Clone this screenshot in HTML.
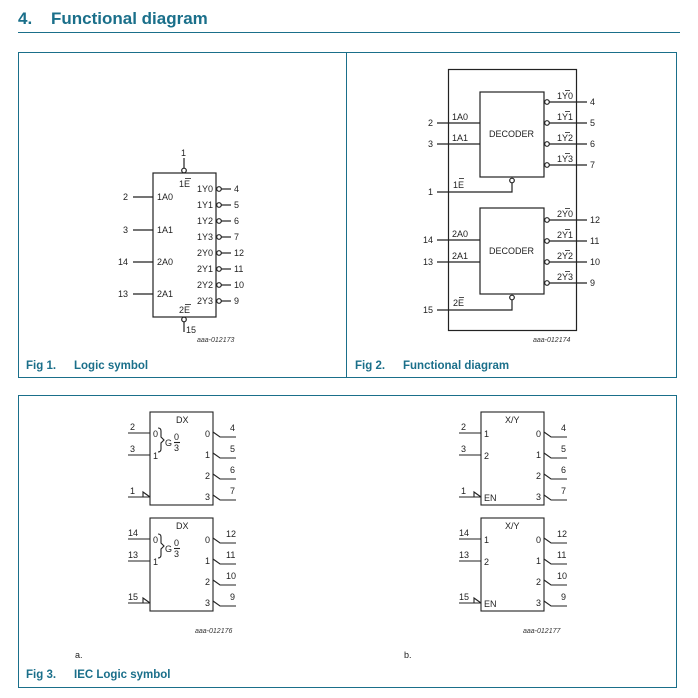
<!DOCTYPE html>
<html><head><meta charset="utf-8"><style>
body{margin:0;background:#fff;width:698px;height:698px;overflow:hidden}
svg{display:block}
text{font-family:"Liberation Sans",sans-serif}
.t{font-size:9px;fill:#222}
.c{font-size:11.5px;fill:#1a6f8a;font-weight:bold}
.s{font-size:7px;font-style:italic;fill:#333}
</style></head><body>
<svg width="698" height="698" viewBox="0 0 698 698" xmlns="http://www.w3.org/2000/svg">
<g stroke="#1a6f8a" fill="none" stroke-width="1">
<line x1="18" y1="32.5" x2="680" y2="32.5"/>
<rect x="18.5" y="52.5" width="658" height="325"/>
<line x1="346.5" y1="52" x2="346.5" y2="378"/>
<rect x="18.5" y="395.5" width="658" height="292"/>
</g>
<text x="18" y="24" style="font-size:17px;font-weight:bold;fill:#1a6f8a">4.</text>
<text x="51" y="24" style="font-size:17px;font-weight:bold;fill:#1a6f8a">Functional diagram</text>
<text x="26" y="369" class="c">Fig 1.</text><text x="74" y="369" class="c">Logic symbol</text>
<text x="355" y="369" class="c">Fig 2.</text><text x="403" y="369" class="c">Functional diagram</text>
<text x="26" y="678" class="c">Fig 3.</text><text x="74" y="678" class="c">IEC Logic symbol</text>

<!-- Fig 1 -->
<g stroke="#222" fill="none" stroke-width="1.2">
<rect x="153" y="173" width="63" height="144"/>
<line x1="184" y1="158" x2="184" y2="168"/><circle cx="184" cy="170.5" r="2.3" fill="#fff"/>
<circle cx="184" cy="319.5" r="2.3" fill="#fff"/><line x1="184" y1="322" x2="184" y2="332"/>
<line x1="133" y1="197" x2="153" y2="197"/>
<line x1="133" y1="230" x2="153" y2="230"/>
<line x1="133" y1="262" x2="153" y2="262"/>
<line x1="133" y1="294" x2="153" y2="294"/>
<g>
<circle cx="219" cy="189" r="2.3" fill="#fff"/><line x1="221" y1="189" x2="231" y2="189"/>
<circle cx="219" cy="205" r="2.3" fill="#fff"/><line x1="221" y1="205" x2="231" y2="205"/>
<circle cx="219" cy="221" r="2.3" fill="#fff"/><line x1="221" y1="221" x2="231" y2="221"/>
<circle cx="219" cy="237" r="2.3" fill="#fff"/><line x1="221" y1="237" x2="231" y2="237"/>
<circle cx="219" cy="253" r="2.3" fill="#fff"/><line x1="221" y1="253" x2="231" y2="253"/>
<circle cx="219" cy="269" r="2.3" fill="#fff"/><line x1="221" y1="269" x2="231" y2="269"/>
<circle cx="219" cy="285" r="2.3" fill="#fff"/><line x1="221" y1="285" x2="231" y2="285"/>
<circle cx="219" cy="301" r="2.3" fill="#fff"/><line x1="221" y1="301" x2="231" y2="301"/>
</g>
</g>
<g class="t">
<text x="181" y="156" class="t">1</text>
<text x="179" y="187" class="t">1E</text><line x1="185" y1="178.5" x2="191" y2="178.5" stroke="#222" stroke-width="0.8"/>
<text x="179" y="313" class="t">2E</text><line x1="185" y1="304.5" x2="191" y2="304.5" stroke="#222" stroke-width="0.8"/>
<text x="186" y="333" class="t">15</text>
<text x="123" y="200" class="t">2</text><text x="157" y="200" class="t">1A0</text>
<text x="123" y="233" class="t">3</text><text x="157" y="233" class="t">1A1</text>
<text x="118" y="265" class="t">14</text><text x="157" y="265" class="t">2A0</text>
<text x="118" y="297" class="t">13</text><text x="157" y="297" class="t">2A1</text>
<text x="197" y="192" class="t">1Y0</text><text x="234" y="192" class="t">4</text>
<text x="197" y="208" class="t">1Y1</text><text x="234" y="208" class="t">5</text>
<text x="197" y="224" class="t">1Y2</text><text x="234" y="224" class="t">6</text>
<text x="197" y="240" class="t">1Y3</text><text x="234" y="240" class="t">7</text>
<text x="197" y="256" class="t">2Y0</text><text x="234" y="256" class="t">12</text>
<text x="197" y="272" class="t">2Y1</text><text x="234" y="272" class="t">11</text>
<text x="197" y="288" class="t">2Y2</text><text x="234" y="288" class="t">10</text>
<text x="197" y="304" class="t">2Y3</text><text x="234" y="304" class="t">9</text>
<text x="197" y="342" class="s">aaa-012173</text>
</g>

<!-- Fig 2 -->
<g stroke="#222" fill="none" stroke-width="1.2">
<rect x="448.5" y="69.5" width="128" height="261"/>
<rect x="480" y="92" width="64" height="85"/>
<rect x="480" y="208" width="64" height="86"/>
<line x1="437" y1="123" x2="480" y2="123"/>
<line x1="437" y1="144" x2="480" y2="144"/>
<polyline points="437,192 512,192 512,183"/><circle cx="512" cy="180.5" r="2.3" fill="#fff"/>
<line x1="437" y1="240" x2="480" y2="240"/>
<line x1="437" y1="262" x2="480" y2="262"/>
<polyline points="437,310 512,310 512,300"/><circle cx="512" cy="297.5" r="2.3" fill="#fff"/>
<g>
<circle cx="547" cy="102" r="2.3" fill="#fff"/><line x1="549" y1="102" x2="587" y2="102"/>
<circle cx="547" cy="123" r="2.3" fill="#fff"/><line x1="549" y1="123" x2="587" y2="123"/>
<circle cx="547" cy="144" r="2.3" fill="#fff"/><line x1="549" y1="144" x2="587" y2="144"/>
<circle cx="547" cy="165" r="2.3" fill="#fff"/><line x1="549" y1="165" x2="587" y2="165"/>
<circle cx="547" cy="220" r="2.3" fill="#fff"/><line x1="549" y1="220" x2="587" y2="220"/>
<circle cx="547" cy="241" r="2.3" fill="#fff"/><line x1="549" y1="241" x2="587" y2="241"/>
<circle cx="547" cy="262" r="2.3" fill="#fff"/><line x1="549" y1="262" x2="587" y2="262"/>
<circle cx="547" cy="283" r="2.3" fill="#fff"/><line x1="549" y1="283" x2="587" y2="283"/>
</g>
</g>
<g stroke="#222" stroke-width="0.8">
<line x1="565" y1="90.5" x2="570" y2="90.5"/><line x1="565" y1="111.5" x2="570" y2="111.5"/>
<line x1="565" y1="132.5" x2="570" y2="132.5"/><line x1="565" y1="153.5" x2="570" y2="153.5"/>
<line x1="565" y1="208.5" x2="570" y2="208.5"/><line x1="565" y1="229.5" x2="570" y2="229.5"/>
<line x1="565" y1="250.5" x2="570" y2="250.5"/><line x1="565" y1="271.5" x2="570" y2="271.5"/>
<line x1="459" y1="178.5" x2="464" y2="178.5"/><line x1="459" y1="297.5" x2="464" y2="297.5"/>
</g>
<g class="t">
<text x="489" y="137" class="t">DECODER</text>
<text x="489" y="254" class="t">DECODER</text>
<text x="428" y="126" class="t">2</text><text x="452" y="120" class="t">1A0</text>
<text x="428" y="147" class="t">3</text><text x="452" y="141" class="t">1A1</text>
<text x="428" y="195" class="t">1</text><text x="453" y="188" class="t">1E</text>
<text x="423" y="243" class="t">14</text><text x="452" y="237" class="t">2A0</text>
<text x="423" y="265" class="t">13</text><text x="452" y="259" class="t">2A1</text>
<text x="423" y="313" class="t">15</text><text x="453" y="306" class="t">2E</text>
<text x="557" y="99" class="t">1Y0</text><text x="590" y="105" class="t">4</text>
<text x="557" y="120" class="t">1Y1</text><text x="590" y="126" class="t">5</text>
<text x="557" y="141" class="t">1Y2</text><text x="590" y="147" class="t">6</text>
<text x="557" y="162" class="t">1Y3</text><text x="590" y="168" class="t">7</text>
<text x="557" y="217" class="t">2Y0</text><text x="590" y="223" class="t">12</text>
<text x="557" y="238" class="t">2Y1</text><text x="590" y="244" class="t">11</text>
<text x="557" y="259" class="t">2Y2</text><text x="590" y="265" class="t">10</text>
<text x="557" y="280" class="t">2Y3</text><text x="590" y="286" class="t">9</text>
<text x="533" y="342" class="s">aaa-012174</text>
</g>

<!-- Fig 3a -->
<g stroke="#222" fill="none" stroke-width="1.1">
<rect x="150" y="412" width="63" height="93"/>
<rect x="150" y="518" width="63" height="93"/>
<line x1="128" y1="433" x2="150" y2="433"/>
<line x1="128" y1="455" x2="150" y2="455"/>
<line x1="128" y1="497" x2="150" y2="497"/><polyline points="143,497 143,492 150,497"/>
<line x1="128" y1="539" x2="150" y2="539"/>
<line x1="128" y1="561" x2="150" y2="561"/>
<line x1="128" y1="603" x2="150" y2="603"/><polyline points="143,603 143,598 150,603"/>
<path d="M158,428 q3,0 3,3 v6 l3,3 l-3,3 v6 q0,3 -3,3"/>
<path d="M158,534 q3,0 3,3 v6 l3,3 l-3,3 v6 q0,3 -3,3"/>
<line x1="174" y1="442.5" x2="180" y2="442.5"/>
<line x1="174" y1="548.5" x2="180" y2="548.5"/>
</g>
<g stroke="#222" fill="none" stroke-width="1.1">
<path d="M213,432 l7,5 h16 M213,453 l7,5 h16 M213,474 l7,5 h16 M213,495 l7,5 h16"/>
<path d="M213,538 l7,5 h16 M213,559 l7,5 h16 M213,580 l7,5 h16 M213,601 l7,5 h16"/>
</g>
<g class="t">
<text x="176" y="423" class="t">DX</text><text x="176" y="529" class="t">DX</text>
<text x="153" y="437" class="t">0</text><text x="153" y="459" class="t">1</text>
<text x="153" y="543" class="t">0</text><text x="153" y="565" class="t">1</text>
<text x="165" y="446" class="t">G</text><text x="174" y="440" class="t">0</text><text x="174" y="451" class="t">3</text>
<text x="165" y="552" class="t">G</text><text x="174" y="546" class="t">0</text><text x="174" y="557" class="t">3</text>
<text x="130" y="430" class="t">2</text><text x="130" y="452" class="t">3</text><text x="130" y="494" class="t">1</text>
<text x="128" y="536" class="t">14</text><text x="128" y="558" class="t">13</text><text x="128" y="600" class="t">15</text>
<text x="205" y="437" class="t">0</text><text x="205" y="458" class="t">1</text><text x="205" y="479" class="t">2</text><text x="205" y="500" class="t">3</text>
<text x="205" y="543" class="t">0</text><text x="205" y="564" class="t">1</text><text x="205" y="585" class="t">2</text><text x="205" y="606" class="t">3</text>
<text x="230" y="431" class="t">4</text><text x="230" y="452" class="t">5</text><text x="230" y="473" class="t">6</text><text x="230" y="494" class="t">7</text>
<text x="226" y="537" class="t">12</text><text x="226" y="558" class="t">11</text><text x="226" y="579" class="t">10</text><text x="230" y="600" class="t">9</text>
<text x="195" y="633" class="s">aaa-012176</text>
<text x="75" y="658" class="t">a.</text>
</g>

<!-- Fig 3b -->
<g stroke="#222" fill="none" stroke-width="1.1">
<rect x="481" y="412" width="63" height="93"/>
<rect x="481" y="518" width="63" height="93"/>
<line x1="459" y1="433" x2="481" y2="433"/>
<line x1="459" y1="455" x2="481" y2="455"/>
<line x1="459" y1="497" x2="481" y2="497"/><polyline points="474,497 474,492 481,497"/>
<line x1="459" y1="539" x2="481" y2="539"/>
<line x1="459" y1="561" x2="481" y2="561"/>
<line x1="459" y1="603" x2="481" y2="603"/><polyline points="474,603 474,598 481,603"/>
<path d="M544,432 l7,5 h16 M544,453 l7,5 h16 M544,474 l7,5 h16 M544,495 l7,5 h16"/>
<path d="M544,538 l7,5 h16 M544,559 l7,5 h16 M544,580 l7,5 h16 M544,601 l7,5 h16"/>
</g>
<g class="t">
<text x="505" y="423" class="t">X/Y</text><text x="505" y="529" class="t">X/Y</text>
<text x="484" y="437" class="t">1</text><text x="484" y="459" class="t">2</text><text x="484" y="501" class="t">EN</text>
<text x="484" y="543" class="t">1</text><text x="484" y="565" class="t">2</text><text x="484" y="607" class="t">EN</text>
<text x="461" y="430" class="t">2</text><text x="461" y="452" class="t">3</text><text x="461" y="494" class="t">1</text>
<text x="459" y="536" class="t">14</text><text x="459" y="558" class="t">13</text><text x="459" y="600" class="t">15</text>
<text x="536" y="437" class="t">0</text><text x="536" y="458" class="t">1</text><text x="536" y="479" class="t">2</text><text x="536" y="500" class="t">3</text>
<text x="536" y="543" class="t">0</text><text x="536" y="564" class="t">1</text><text x="536" y="585" class="t">2</text><text x="536" y="606" class="t">3</text>
<text x="561" y="431" class="t">4</text><text x="561" y="452" class="t">5</text><text x="561" y="473" class="t">6</text><text x="561" y="494" class="t">7</text>
<text x="557" y="537" class="t">12</text><text x="557" y="558" class="t">11</text><text x="557" y="579" class="t">10</text><text x="561" y="600" class="t">9</text>
<text x="523" y="633" class="s">aaa-012177</text>
<text x="404" y="658" class="t">b.</text>
</g>
</svg>
</body></html>
